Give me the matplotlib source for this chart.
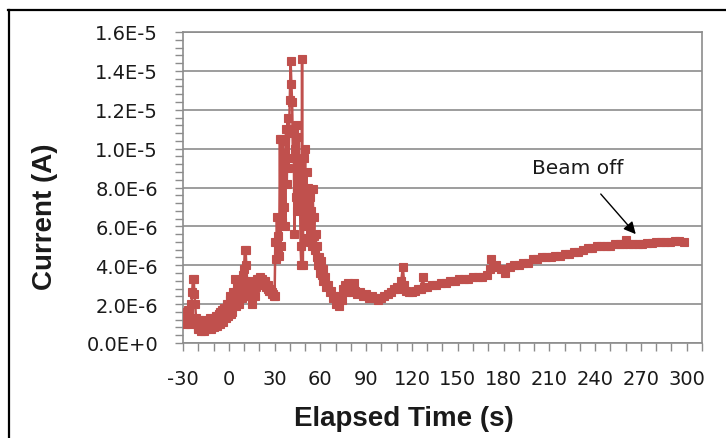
import matplotlib.pyplot as plt
from matplotlib.lines import Line2D
from matplotlib.ticker import MultipleLocator, FuncFormatter
import numpy as np

plt.rcParams['axes.unicode_minus'] = False

# elapsed time (s) and current (in 1E-6 A)
time_s = [-30, -29.5, -29, -28.5, -28, -27.5, -27, -26.5, -26, -25.5, -25, -24.5, -24, -23.5,
          -23, -22.5, -22, -21.5, -21, -20.5, -20, -19.5, -19, -18.5, -18, -17.5, -17, -16.5,
          -16, -15.5, -15, -14.5, -14, -13.5, -13, -12.5, -12, -11.5, -11, -10.5, -10, -9.5,
          -9, -8.5, -8, -7.5, -7, -6.5, -6, -5.5, -5, -4.5, -4, -3.5, -3, -2.5, -2, -1.5,
          -1, -0.5, 0, 0.5, 1, 1.5, 2, 2.5, 3, 3.5, 4, 4.5, 5, 5.5, 6, 6.5, 7, 7.5, 8, 8.5,
          9, 9.5, 10, 10.5, 11, 11.5, 12, 12.5, 13, 13.5, 14, 14.5, 15, 15.5, 16, 16.5, 17,
          17.5, 18, 18.5, 19, 19.5, 20, 20.5, 21, 21.5, 22, 22.5, 23, 23.5, 24, 24.5, 25,
          25.5, 26, 26.5, 27, 27.5, 28, 28.5, 29, 29.5, 30,
          30.5, 31, 31.5, 32, 32.5, 33, 33.5, 34, 34.5, 35, 35.5, 36, 36.5, 37, 37.5, 38,
          38.5, 39, 39.5, 40, 40.5, 41, 41.5, 42, 42.5, 43, 43.5, 44, 44.5, 45, 45.5, 46,
          46.5, 47, 47.5, 48, 48.5, 49, 49.5, 50, 50.5, 51, 51.5, 52, 52.5, 53, 53.5, 54,
          54.5, 55, 55.5, 56, 56.5, 57, 57.5, 58, 58.5, 59, 59.5, 60, 60.5, 61, 61.5, 62,
          63, 64, 65, 66, 67, 68, 69, 70, 71, 72, 73, 74, 75, 76, 77, 78, 79, 80, 81, 82,
          83, 84, 86, 88, 90, 92, 94, 96, 98, 100, 102, 104, 106, 108, 110, 112, 113, 114,
          115, 116, 118, 120, 122, 124, 126, 127, 128, 130, 133, 136, 139, 142, 145, 148,
          151, 154, 157, 160, 163, 166, 169, 171, 172, 173, 175, 178, 181, 184, 187, 190,
          193, 196, 199, 202, 205, 208, 211, 214, 217, 220, 223, 226, 229, 232, 235, 238,
          241, 244, 247, 250, 253, 256, 258, 260, 262, 265, 268, 271, 274, 277, 280, 283,
          286, 289, 292, 295, 298]
current_uA = [1.3, 1.6, 1.0, 1.4, 1.5, 1.1, 1.2, 1.7, 1.6, 1.0, 1.1, 2.0, 2.6, 3.3,
              3.3, 2.5, 2.0, 1.3, 1.0, 0.7, 0.8, 1.2, 1.1, 0.6, 0.7, 1.0, 0.9, 0.6,
              1.0, 1.2, 0.7, 0.9, 1.1, 0.8, 0.9, 1.3, 1.2, 0.7, 0.8, 1.1, 1.3, 0.8,
              1.0, 1.4, 1.4, 0.9, 1.1, 1.5, 1.6, 1.0, 1.2, 1.7, 1.4, 1.1, 1.8, 1.5, 1.3, 2.0,
              1.9, 1.4, 1.5, 2.4, 2.2, 1.5, 1.6, 2.6, 2.4, 2.0, 3.3, 2.6, 1.9, 2.9, 2.8, 2.0,
              2.2, 3.1, 3.0, 2.3, 2.5, 3.5, 3.8, 4.8, 4.8, 4.0, 3.1, 2.6, 2.4, 3.0, 3.2, 2.5,
              2.0, 2.6, 2.7, 3.1, 2.4, 2.9, 3.0, 3.3, 3.3, 3.1, 3.2, 3.4, 3.1, 3.2, 3.3, 3.1,
              3.0, 3.2, 3.1, 2.9, 2.9, 3.0, 2.8, 2.7, 2.7, 2.8, 2.6, 2.5, 2.5, 2.4, 2.4,
              5.2, 4.3, 6.5, 4.8, 5.5, 4.5, 10.5, 5.0, 10.5, 6.2, 10.4, 7.0, 9.8, 6.0, 11.0,
              8.2, 11.6, 9.0, 10.8, 12.5, 14.5, 13.3, 12.4, 9.5, 11.0, 5.6, 10.0, 7.5, 11.2,
              6.8, 10.6, 8.0, 9.2, 5.0, 4.0, 14.6, 4.0, 9.5, 7.2, 10.0, 6.0, 8.8, 5.4, 8.0,
              6.5, 7.5, 5.2, 6.8, 5.0, 7.9, 5.5, 6.5, 4.8, 5.6, 4.4, 5.0, 4.0, 4.4, 3.6, 3.9,
              4.2, 3.5, 3.8, 3.2,
              3.4, 2.9, 3.0, 2.6, 2.7, 2.3, 2.4, 2.0, 2.2, 1.9, 2.4, 2.2, 2.8, 3.0, 2.6, 3.1,
              2.7, 3.0, 2.6, 3.1, 2.7, 2.5, 2.6, 2.4, 2.5, 2.3, 2.4, 2.3, 2.2, 2.3, 2.4, 2.5,
              2.6, 2.8, 2.9, 2.8, 3.2, 3.9, 3.0, 2.7, 2.6, 2.6, 2.7, 2.8, 2.8, 3.4, 2.9, 2.9,
              3.0, 3.0, 3.1, 3.1, 3.2, 3.2, 3.3, 3.3, 3.3, 3.4, 3.4, 3.4, 3.5, 3.8, 4.3, 3.9,
              4.0, 3.8, 3.6, 3.9, 4.0, 4.0, 4.1, 4.1, 4.3, 4.3, 4.4, 4.4, 4.4, 4.5, 4.5, 4.6,
              4.6, 4.7, 4.7, 4.8, 4.9, 4.9, 5.0, 5.0, 5.0, 5.0, 5.1, 5.1, 5.1, 5.3, 5.1, 5.1,
              5.1, 5.1, 5.15, 5.15, 5.2, 5.2, 5.2, 5.2, 5.25, 5.25, 5.2]

current = np.array(current_uA) * 1e-6

red = '#C0504D'
grid_grey = '#8c8c8c'
txt = '#1a1a1a'

fig = plt.figure(figsize=(7.26, 4.39), dpi=100)
ax = fig.add_axes([183 / 726, 95 / 439, 519 / 726, 311 / 439])

ax.plot(time_s, current, color=red, lw=1.8, marker='s', markersize=5.4,
        markeredgewidth=0.8, markeredgecolor=red, markerfacecolor=red, zorder=3)

ax.set_xlim(-30, 310)
ax.set_ylim(0, 1.6e-5)
ax.xaxis.set_major_locator(MultipleLocator(30))
ax.xaxis.set_minor_locator(MultipleLocator(10))
ax.yaxis.set_major_locator(MultipleLocator(2e-6))
ax.yaxis.set_minor_locator(MultipleLocator(4e-7))


def sci(v, pos):
    s = f"{v:.1E}"
    mant, ex = s.split('E')
    return f"{mant}E{int(ex):+d}"


ax.yaxis.set_major_formatter(FuncFormatter(sci))

ax.grid(axis='y', color=grid_grey, lw=1.2, zorder=0)
for sp in ax.spines.values():
    sp.set_color(grid_grey)
    sp.set_linewidth(1.2)

ax.tick_params(axis='both', which='both', direction='out', color=grid_grey, width=1.0,
               length=6)
ax.tick_params(axis='y', which='both', pad=12, labelsize=14, labelcolor=txt)
ax.tick_params(axis='x', which='both', pad=13, labelsize=14, labelcolor=txt)

ax.set_xlabel('Elapsed Time (s)', fontsize=20, fontweight='bold', family='Liberation Sans',
              color=txt, va='center')
ax.xaxis.set_label_coords((404 - 183) / 519, (344 - 419) / 311)
ax.set_ylabel('Current (A)', fontsize=20, fontweight='bold', family='Liberation Sans',
              color=txt, va='center')
ax.yaxis.set_label_coords((45 - 183) / 519, (344 - 217) / 311)

ax.annotate('Beam off', xy=(266.6, 5.6e-6), xytext=(228.3, 9.05e-6), fontsize=14.5,
            color=txt, ha='center', va='center',
            arrowprops=dict(arrowstyle='-|>', color='black', lw=1.0, mutation_scale=18,
                            shrinkA=14, shrinkB=0))

# thin frame at the left and top of the picture
fig.add_artist(Line2D([8.5 / 726, 8.5 / 726], [0, 1 - 11 / 439], color='black', lw=1.6,
                      transform=fig.transFigure))
fig.add_artist(Line2D([8 / 726, 1], [1 - 11 / 439, 1 - 11 / 439], color='black', lw=1.6,
                      transform=fig.transFigure))

plt.savefig('out.png', dpi=100)
